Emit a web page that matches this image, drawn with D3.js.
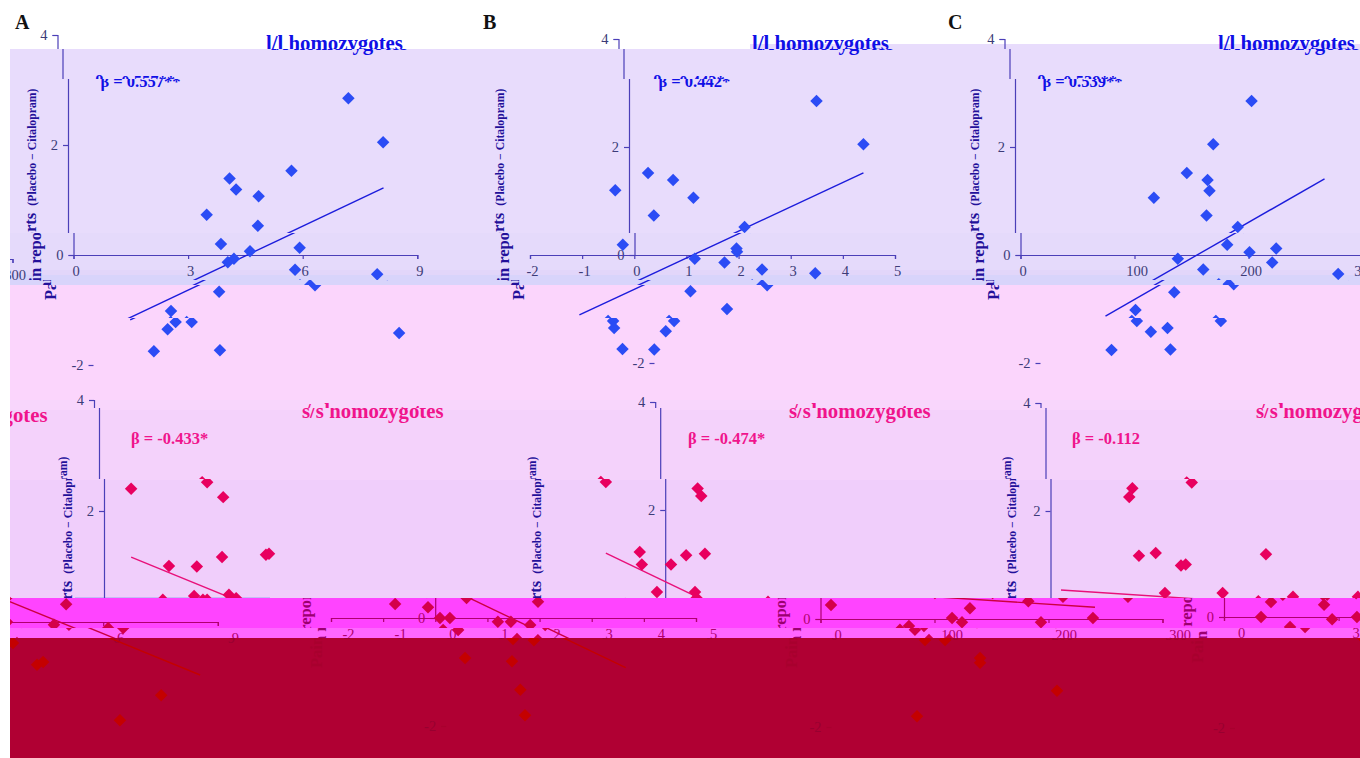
<!DOCTYPE html>
<html><head><meta charset="utf-8">
<script src="https://cdn.jsdelivr.net/npm/d3@7"></script>
<style>
html,body{margin:0;padding:0;background:#fff}
svg{display:block}
text{font-family:"Liberation Serif",serif}
</style></head><body>
<svg id="c" width="1360" height="758"></svg>
<script>
// ---- data ----
const llA_x=[7.34,8.25,5.85,4.23,4.40,4.99,3.63,4.97,3.86,4.62,5.92,4.20,4.04,5.80,7.95,5.93,3.42,2.16,2.15,2.57,1.94,8.0,1.58,3.31];
const llA_y=[2.85,2.05,1.53,1.39,1.19,1.07,0.73,0.53,0.20,0.07,0.13,-0.07,-0.13,-0.27,-0.35,-0.55,-0.67,-1.02,-1.22,-1.22,-1.35,-1.42,-1.75,-1.73];
const llB_x=[3.60,4.50,0.37,0.85,-0.26,1.24,0.48,2.22,-0.22,1.96,1.97,1.16,1.73,2.45,3.47,2.26,0.79,1.49,-0.79,0.38,-0.77,0.22,-0.61,0];
const llB_y=[2.85,2.05,1.52,1.39,1.20,1.06,0.73,0.52,0.19,0.12,0.06,-0.07,-0.14,-0.27,-0.34,-0.56,-0.67,-1.00,-1.22,-1.22,-1.35,-1.41,-1.74,-1.75];
const llC_x=[207.5,173.9,150.7,168.9,170.6,121.8,168,195.4,181.3,200.9,224.3,138,220.8,160.3,278.7,173.9,121.7,87.7,84.5,158.2,111.4,96.8,62.3,114];
const llC_y=[2.85,2.05,1.52,1.39,1.19,1.06,0.73,0.52,0.19,0.05,0.12,-0.07,-0.14,-0.27,-0.35,-0.54,-0.69,-1.02,-1.22,-1.22,-1.35,-1.42,-1.76,-1.75];
const ssA_x=[0.71,2.70,3.12,1.70,2.43,3.09,4.24,4.32,2.36,2.59,2.70,3.27,3.46,1.54,5.03,4.71,6.13,3.35,3.98,4.14,7.23,6.15,1.23,0.97,2.62,2.83,1.73,3.48];
const ssA_y=[2.40,2.52,2.25,1.01,1.00,1.17,1.21,1.23,0.47,0.40,0.40,0.49,0.43,0.40,0.32,-0.05,-0.11,-0.38,-0.77,-0.72,-1.32,-1.77,0.27,0,0.22,-0.04,-0.18,0];
const ssB_x=[-1.14,0.62,0.69,-0.49,-0.45,0.11,0.40,0.76,-0.16,0.57,0.60,1.97,-0.77,-0.14,0.09,0.28,0.15,1.20,1.45,1.82,1.28,1.68,0.36,1.26,1.42,1.51];
const ssB_y=[2.52,2.40,2.26,1.22,0.99,0.99,1.16,1.19,0.48,0.48,0.37,0.30,0.26,0.20,0,0,-0.22,-0.07,-0.07,-0.13,-0.39,-0.41,-0.74,-0.80,-1.33,-1.80];
const ssC_x=[71.8,69.1,123.9,77.6,92.3,114.5,118.6,100.4,151,189,212.7,182.3,269.7,131.1,115.4,124.1,193.4,239,77.6,69.7,9.2,99.6,82,130.3,130.3,197.8,75];
const ssC_y=[2.42,2.26,2.53,1.17,1.22,0.99,1.01,0.48,0.48,1.20,0.41,0.33,0.41,0.20,0.02,-0.06,-0.06,0.02,-0.13,-0.20,0.26,-0.39,-0.39,-0.72,-0.81,-1.33,-1.80];
const fitAx=[0.96,8.26], fitAy=[-1.18,1.22];
const fitBx=[-1.34,4.50], fitBy=[-1.11,1.52];
const fitCx=[61.4,271.5], fitCy=[-1.13,1.41];
const fitDx=[0.71,8.25], fitDy=[1.17,-0.955];
const fitEx=[-1.14,3.44], fitEy=[1.20,-0.92];
const fitFx=[9.2,240.8], fitFy=[0.537,0.217];
const yTicks=[-2,0,2,4];
const xTicksA=[0,3,6,9], xTicksB=[-2,-1,0,1,2,3,4,5], xTicksC=[0,100,200,300];
const letters=["A","B","C"];
const titles=["l/l homozygotes","s/s homozygotes"];
const yLabelMain="Pain reports", yLabelSub="(Placebo \u2212 Citalopram)";

// ---- layout ----
const panels=[
 {xs:llA_x,ys:llA_y,fx:fitAx,fy:fitAy,ticks:xTicksA,dom:[0,9],r:[57.5,401.3],y0:255,u:55,stat:"\u03B2 = 0.557**",sx:90,sy:87,tx:266,ty:50,lab:25,top:1},
 {xs:llB_x,ys:llB_y,fx:fitBx,fy:fitBy,ticks:xTicksB,dom:[-2,5],r:[514,879],y0:255,u:54,stat:"\u03B2 = 0.442*",sx:648,sy:87,tx:752,ty:50,lab:493,top:1,ax:618.5},
 {xs:llC_x,ys:llC_y,fx:fitCx,fy:fitCy,ticks:xTicksC,dom:[0,300],r:[1004.5,1346.5],y0:255,u:54,stat:"\u03B2 = 0.539**",sx:1032,sy:87,tx:1218,ty:50,lab:968,top:1},
 {xs:ssA_x,ys:ssA_y,fx:fitDx,fy:fitDy,ticks:xTicksA,dom:[0,9],r:[104,447.8],y0:622,u:55.5,stat:"\u03B2 = -0.433*",sx:136,sy:443.5,tx:307,ty:418,lab:72,top:0},
 {xs:ssB_x,ys:ssB_y,fx:fitEx,fy:fitEy,ticks:xTicksB,dom:[-2,5],r:[561,926],y0:618,u:54,stat:"\u03B2 = -0.474*",sx:693,sy:443.5,tx:794,ty:418,lab:541,top:0,ax:665.2},
 {xs:ssC_x,ys:ssC_y,fx:fitFx,fy:fitFy,ticks:xTicksC,dom:[0,300],r:[1050.5,1392.5],y0:619,u:54,stat:"\u03B2 = -0.112",sx:1077,sy:443.5,tx:1261,ty:418,lab:1016,top:0}
];
const letterPos=[[15,29],[483,29],[948,29]];

// background bands: [x0,x1,y0,y1,colour]
const bands=[
 [10,1360,49,233,"#e8dcfc"],[750,1360,44,49,"#e8dcfc"],
 [10,1360,233,270,"#e5dafb"],[10,1360,270,275,"#e2d6fa"],[10,1360,275,285,"#d8d4fb"],
 [10,180,285,290,"#d8d4fb"],
 [10,1360,285,400,"#fbd5fc"],
 [10,1360,400,410,"#f8d6fc"],[10,1360,410,480,"#f4d2fb"],[10,1360,480,598,"#f0cefb"],
 [75,270,597,601,"#c4bcf4"],
 [10,1360,598,628,"#ff44ff"],[10,1360,628,638,"#ff66ff"],
 [10,1360,638,758,"#b00033"]
];
// horizontal displacement of image rows: [y0,y1,dx,palette]
const rows=[
 [0,49,0,"a"],[49,79,5,"a"],[79,233,10.5,"a"],[233,280,16,"a"],[280,285,26,"a"],[285,318,31,"a"],[318,388,36,"a"],
 [388,408,-10,"a"],[408,479,-5,"a"],[479,598,0,"a"],
 [598,628,-230,"m"],[628,638,-215,"m"],[638,758,-219,"d"]
];
const palettes={
 a:{axis:"#4b3fb8",tick:"#3c3c78",blue:"#2b4cf5",fit:"#1c1cdc",title:"#1010e6",pink:"#e8005f",pinkFit:"#e8107a",pinkT:"#f0148c",navy:"#23109a",black:"#111"},
 m:{axis:"#b0006e",tick:"#b0006e",blue:"#d4004a",fit:"#c80040",title:"#c80040",pink:"#d4004a",pinkFit:"#cc0040",pinkT:"#cc0040",navy:"#9c0070",black:"#990060"},
 d:{axis:"#a8002e",tick:"#980030",blue:"#c40000",fit:"#c40000",title:"#c40000",pink:"#c40000",pinkFit:"#c40000",pinkT:"#c40000",navy:"#a8002e",black:"#a8002e"}
};

const svg=d3.select("#c");
const defs=svg.append("defs");
svg.append("g").selectAll("rect").data(bands).join("rect")
  .attr("x",d=>d[0]).attr("width",d=>d[1]-d[0]).attr("y",d=>d[2]).attr("height",d=>d[3]-d[2]).attr("fill",d=>d[4]);

// ---- the undisturbed scene ----
const scene=defs.append("g").attr("id","scene");
const diamond=d3.symbol().type(d3.symbolSquare).size(78);
panels.forEach((p,i)=>{
  const g=scene.append("g");
  const x=d3.scaleLinear().domain(p.dom).range(p.r);
  const y=d3.scaleLinear().domain([0,4]).range([p.y0,p.y0-4*p.u]);
  const axisX=p.ax!==undefined?p.ax:p.r[0];
  const yA=d3.axisLeft(y).tickValues(yTicks).tickSize(5).tickPadding(5).tickFormat(String);
  const xA=d3.axisBottom(x).tickValues(p.ticks).tickSize(4).tickPadding(7).tickFormat(String);
  const ga=g.append("g").attr("transform",`translate(${axisX},0)`).call(yA);
  const gb=g.append("g").attr("transform",`translate(0,${p.y0})`).call(xA);
  [ga,gb].forEach(s=>{
    s.selectAll("path,line").attr("style","stroke:var(--axis)").attr("stroke-width",1.2);
    s.selectAll("text").attr("style","fill:var(--tick)").attr("font-size",14.5);
  });
  gb.selectAll("text").attr("dx",2);
  const col=p.top?"blue":"pink", fitc=p.top?"fit":"pinkFit", tc=p.top?"title":"pinkT";
  g.append("line")
    .attr("x1",x(p.fx[0])).attr("x2",x(p.fx[1]))
    .attr("y1",y(p.fy[0])).attr("y2",y(p.fy[1]))
    .attr("style",`stroke:var(--${fitc})`).attr("stroke-width",1.4);
  g.selectAll("path.pt").data(d3.range(p.xs.length)).join("path").attr("class","pt")
    .attr("d",diamond)
    .attr("transform",k=>`translate(${x(p.xs[k])},${y(p.ys[k])}) rotate(45)`)
    .attr("style",`fill:var(--${col})`);
  g.append("text").attr("x",p.sx).attr("y",p.sy).attr("font-size",16.5).attr("font-weight","bold")
    .attr("style",`fill:var(--${tc})`).text(p.stat);
  g.append("text").attr("x",p.tx).attr("y",p.ty).attr("font-size",20.8).attr("font-weight","bold")
    .attr("style",`fill:var(--${tc})`).text(titles[p.top?0:1]);
  const startY=p.top?300:668;
  const lab=g.append("text").attr("transform",`translate(${p.lab},${startY}) rotate(-90)`)
    .attr("style","fill:var(--navy)").attr("font-weight","bold");
  lab.append("tspan").attr("font-size",16.5).text(yLabelMain+" ");
  lab.append("tspan").attr("font-size",11.7).attr("dx",3).text(yLabelSub);
});
scene.append("g").selectAll("text").data(letters).join("text")
  .attr("x",(d,i)=>letterPos[i][0]).attr("y",(d,i)=>letterPos[i][1])
  .attr("font-size",20).attr("font-weight","bold").attr("style","fill:var(--black)").text(d=>d);

// ---- rows of the picture, each showing the scene displaced sideways, wrapping at the edges ----
const W=1350;
rows.forEach((r,i)=>{
  const id="row"+i;
  const minX=r[0]<49?0:10;
  defs.append("clipPath").attr("id",id).append("rect")
    .attr("x",minX).attr("y",r[0]).attr("width",1360-minX).attr("height",r[1]-r[0]);
  const pal=palettes[r[3]];
  const style=Object.entries(pal).map(([k,v])=>`--${k}:${v}`).join(";");
  const g=svg.append("g").attr("clip-path",`url(#${id})`).attr("style",style);
  [[0,0],[W,-5],[-W,4]].forEach(([wx,wy])=>{
    if(r[0]<49&&wx!==0) return;
    g.append("use").attr("href","#scene").attr("transform",`translate(${r[2]+wx},${wy})`);
  });
});
</script></body></html>
